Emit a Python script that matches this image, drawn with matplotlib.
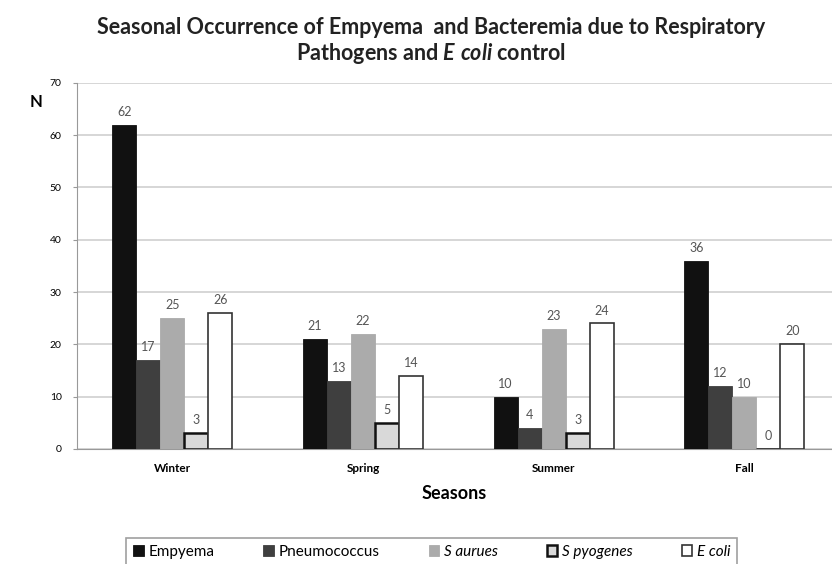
import numpy as np
import matplotlib.pyplot as plt

plt.rcParams['font.family'] = ['Lato', 'DejaVu Sans']
plt.rcParams['mathtext.fontset'] = 'custom'
plt.rcParams['mathtext.it'] = 'Lato:style=italic:weight=bold'
plt.rcParams['mathtext.rm'] = 'Lato:weight=bold'

# datos
estaciones = ["Winter", "Spring", "Summer", "Fall"]
empyema = [62, 21, 10, 36]
pneumococcus = [17, 13, 4, 12]
s_aurues = [25, 22, 23, 10]
s_pyogenes = [3, 5, 3, 0]
e_coli = [26, 14, 24, 20]

series = [
    ("Empyema", empyema, "#111111", "#111111", 0.6),
    ("Pneumococcus", pneumococcus, "#3f3f3f", "#3f3f3f", 0.6),
    ("S aurues", s_aurues, "#ababab", "#ababab", 0.6),
    ("S pyogenes", s_pyogenes, "#d9d9d9", "#111111", 1.8),
    ("E coli", e_coli, "#ffffff", "#333333", 1.2),
]

fig = plt.figure(figsize=(8.32, 5.64), dpi=100)
ax = fig.add_axes([0.0925, 0.204, 0.9075, 0.649])

x = np.arange(len(estaciones))
ancho = 0.126
for i, (nombre, valores, color, borde, lw) in enumerate(series):
    pos = x + (i - 2) * ancho
    barras = ax.bar(pos, valores, ancho, color=color, edgecolor=borde,
                    linewidth=lw, label=nombre, zorder=3)
    ax.bar_label(barras, labels=[str(v) for v in valores], padding=5,
                 fontsize=9, color="#555555")

ax.set_xlim(-0.5, 3.46)
ax.set_ylim(0, 70)
ax.set_yticks(np.arange(0, 71, 10))
ax.tick_params(axis="y", labelsize=7.5, length=3, color="#999999", pad=8)
ax.tick_params(axis="x", labelsize=8.5, length=0, pad=10)
ax.set_xticks(x)
ax.set_xticklabels(estaciones, fontweight="bold")
ax.grid(True, axis="y", color="#d0d0d0", linewidth=1.2, zorder=0)
for lado in ["top", "right"]:
    ax.spines[lado].set_visible(False)
ax.spines["left"].set_color("#999999")
ax.spines["bottom"].set_color("#999999")

ax.set_xlabel("Seasons", fontsize=13, fontweight="bold", labelpad=8)
fig.text(0.036, 0.81, "N", fontsize=12, fontweight="bold")
fig.text(0.518, 0.951, "Seasonal Occurrence of Empyema  and Bacteremia due to Respiratory",
         ha="center", va="center", fontsize=15.5, fontweight="bold", color="#222222")
fig.text(0.518, 0.906, "Pathogens and $\\it{E\\ coli}$ control",
         ha="center", va="center", fontsize=15.5, fontweight="bold", color="#222222")

leyenda = fig.legend(loc="upper center", bbox_to_anchor=(0.519, 0.046), ncol=5,
                     fontsize=11, frameon=True, fancybox=False,
                     edgecolor="#888888", handlelength=0.7, handleheight=0.7,
                     handletextpad=0.3, columnspacing=3.2, borderpad=0.45,
                     borderaxespad=0)
leyenda.get_frame().set_linewidth(1.2)
for t in leyenda.get_texts()[2:]:
    t.set_fontstyle("italic")

plt.savefig("out.png", dpi=100)
